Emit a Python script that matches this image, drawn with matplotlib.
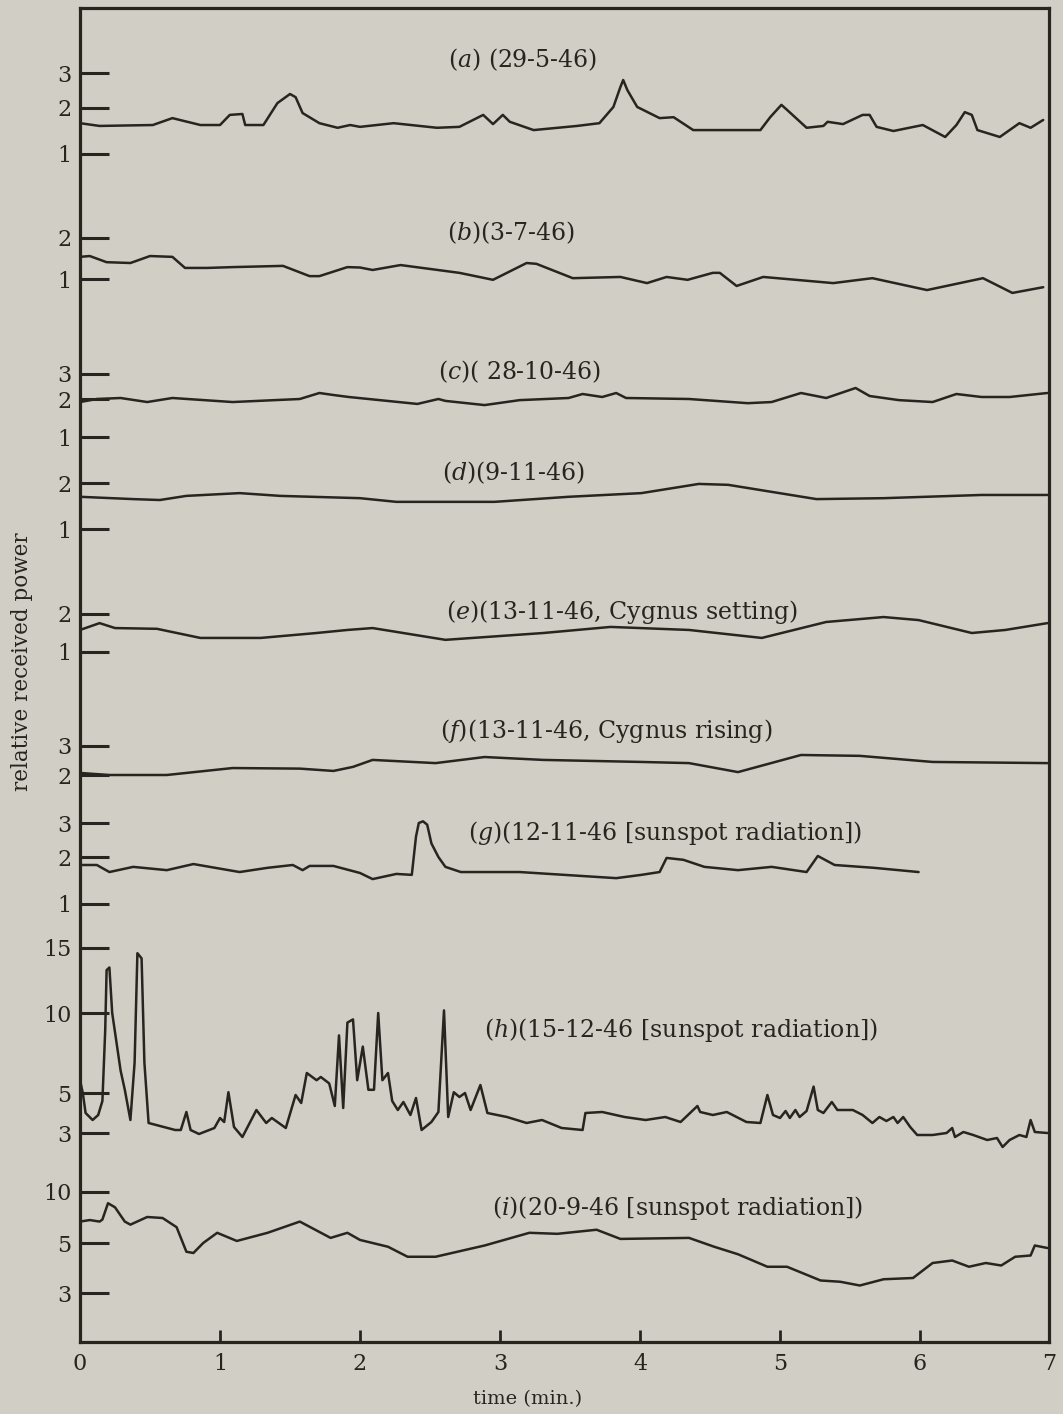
import numpy as np
import matplotlib
matplotlib.use("Agg")
import matplotlib.pyplot as plt
from matplotlib.transforms import blended_transform_factory

# ---------------- data (time in minutes, relative received power) ----------------
A_T = [0.0, 0.14, 0.52, 0.66, 0.86, 1.00, 1.07, 1.16, 1.18, 1.31, 1.41, 1.50, 1.54, 1.59, 1.71, 1.84,
       1.93, 2.00, 2.24, 2.55, 2.71, 2.88, 2.95, 3.02, 3.07, 3.24, 3.55, 3.71, 3.81, 3.86, 3.88, 3.91,
       3.98, 4.14, 4.24, 4.38, 4.50, 4.86, 4.93, 5.01, 5.05, 5.19, 5.31, 5.34, 5.45, 5.59, 5.64, 5.69,
       5.81, 6.02, 6.18, 6.26, 6.32, 6.37, 6.41, 6.57, 6.71, 6.79, 6.88]
A_P = [1.67, 1.61, 1.63, 1.78, 1.63, 1.63, 1.85, 1.87, 1.63, 1.63, 2.14, 2.40, 2.31, 1.89, 1.67, 1.57,
       1.63, 1.59, 1.67, 1.57, 1.59, 1.85, 1.65, 1.85, 1.70, 1.52, 1.61, 1.67, 2.03, 2.60, 2.80, 2.51,
       2.03, 1.78, 1.80, 1.52, 1.52, 1.52, 1.80, 2.09, 1.96, 1.57, 1.61, 1.70, 1.65, 1.85, 1.85, 1.59,
       1.50, 1.63, 1.37, 1.63, 1.91, 1.85, 1.52, 1.37, 1.67, 1.57, 1.74]

B_T = [0.0, 0.07, 0.19, 0.36, 0.50, 0.66, 0.75, 0.91, 1.09, 1.45, 1.64, 1.71, 1.91, 2.00, 2.09, 2.29,
       2.71, 2.95, 3.19, 3.26, 3.52, 3.86, 4.05, 4.19, 4.34, 4.52, 4.57, 4.69, 4.88, 5.38, 5.66, 6.05,
       6.45, 6.66, 6.88]
B_P = [1.54, 1.56, 1.41, 1.39, 1.56, 1.54, 1.27, 1.27, 1.29, 1.32, 1.07, 1.07, 1.29, 1.28, 1.22, 1.34,
       1.15, 0.98, 1.39, 1.37, 1.02, 1.05, 0.90, 1.05, 0.98, 1.15, 1.15, 0.83, 1.05, 0.90, 1.02, 0.73,
       1.02, 0.66, 0.80]

C_T = [0.0, 0.12, 0.29, 0.48, 0.66, 1.09, 1.57, 1.71, 1.81, 1.92, 2.41, 2.56, 2.61, 2.89, 3.14, 3.49,
       3.59, 3.73, 3.83, 3.90, 4.35, 4.77, 4.94, 5.15, 5.33, 5.54, 5.64, 5.85, 6.09, 6.26, 6.44, 6.64, 6.91]
C_P = [1.92, 2.00, 2.04, 1.92, 2.04, 1.92, 2.00, 2.24, 2.16, 2.08, 1.87, 2.00, 1.95, 1.84, 1.97, 2.04,
       2.20, 2.08, 2.24, 2.04, 2.00, 1.89, 1.92, 2.24, 2.04, 2.44, 2.12, 1.97, 1.92, 2.20, 2.08, 2.08, 2.24]

D_T = [0.0, 0.38, 0.57, 0.76, 1.14, 1.43, 2.00, 2.26, 2.96, 3.49, 4.01, 4.42, 4.63, 5.26, 5.74, 6.44, 6.91]
D_P = [1.70, 1.65, 1.63, 1.72, 1.78, 1.72, 1.67, 1.59, 1.59, 1.70, 1.78, 1.98, 1.96, 1.65, 1.67, 1.74, 1.74]

E_T = [0.0, 0.14, 0.25, 0.55, 0.86, 1.29, 1.69, 1.91, 2.09, 2.61, 3.31, 3.79, 4.35, 4.87, 5.33, 5.74,
       5.99, 6.37, 6.61, 6.91]
E_P = [1.58, 1.76, 1.63, 1.61, 1.37, 1.37, 1.50, 1.58, 1.63, 1.32, 1.50, 1.66, 1.58, 1.37, 1.79, 1.92,
       1.84, 1.50, 1.58, 1.76]

F_T = [0.0, 0.21, 0.62, 1.09, 1.57, 1.81, 1.95, 2.09, 2.54, 2.89, 3.31, 4.01, 4.35, 4.70, 5.15, 5.57,
       6.09, 6.91]
F_P = [2.07, 2.00, 2.00, 2.24, 2.22, 2.14, 2.28, 2.52, 2.41, 2.62, 2.52, 2.45, 2.41, 2.10, 2.69, 2.66,
       2.45, 2.41]

G_T = [0.0, 0.12, 0.21, 0.38, 0.62, 0.81, 1.14, 1.34, 1.52, 1.59, 1.64, 1.81, 2.00, 2.09, 2.26, 2.37,
       2.40, 2.42, 2.45, 2.48, 2.51, 2.56, 2.61, 2.72, 3.14, 3.83, 4.01, 4.14, 4.19, 4.31, 4.46, 4.70,
       4.94, 5.19, 5.27, 5.39, 5.67, 5.99]
G_P = [1.83, 1.83, 1.68, 1.79, 1.72, 1.85, 1.68, 1.77, 1.83, 1.72, 1.81, 1.81, 1.66, 1.53, 1.64, 1.62,
       2.60, 3.00, 3.05, 2.95, 2.40, 2.00, 1.79, 1.68, 1.68, 1.55, 1.62, 1.68, 1.98, 1.94, 1.79, 1.72,
       1.79, 1.68, 2.03, 1.83, 1.77, 1.68]

H_T = [0.0, 0.02, 0.04, 0.09, 0.13, 0.16, 0.18, 0.19, 0.21, 0.23, 0.29, 0.32, 0.36, 0.39, 0.41, 0.44,
       0.46, 0.49, 0.68, 0.72, 0.76, 0.79, 0.85, 0.96, 1.00, 1.03, 1.06, 1.10, 1.16, 1.26, 1.33, 1.37,
       1.47, 1.54, 1.58, 1.62, 1.69, 1.72, 1.78, 1.82, 1.85, 1.88, 1.91, 1.95, 1.98, 2.02, 2.06, 2.10,
       2.13, 2.16, 2.20, 2.23, 2.27, 2.31, 2.36, 2.40, 2.44, 2.51, 2.56, 2.60, 2.63, 2.67, 2.71, 2.75,
       2.79, 2.86, 2.91, 3.05, 3.19, 3.30, 3.44, 3.59, 3.61, 3.73, 3.89, 4.04, 4.18, 4.29, 4.41, 4.43,
       4.52, 4.62, 4.76, 4.86, 4.91, 4.95, 5.00, 5.04, 5.07, 5.11, 5.14, 5.19, 5.24, 5.27, 5.31, 5.37,
       5.41, 5.52, 5.59, 5.66, 5.71, 5.76, 5.81, 5.84, 5.88, 5.93, 5.98, 6.09, 6.19, 6.23, 6.25, 6.31,
       6.38, 6.48, 6.55, 6.59, 6.64, 6.71, 6.76, 6.79, 6.82, 6.91]
H_P = [5.8, 5.0, 4.0, 3.65, 3.9, 4.6, 8.9, 13.3, 13.5, 10.0, 6.4, 5.2, 3.65, 6.9, 14.6, 14.2,
       6.9, 3.5, 3.15, 3.15, 4.05, 3.15, 2.95, 3.25, 3.75, 3.55, 5.05, 3.3, 2.8, 4.15, 3.5, 3.75,
       3.25, 4.9, 4.5, 6.25, 5.8, 6.0, 5.6, 4.35, 8.6, 4.25, 9.4, 9.6, 5.8, 7.9, 5.2, 5.2,
       10.0, 5.8, 6.25, 4.6, 4.15, 4.55, 3.9, 4.75, 3.15, 3.55, 4.05, 10.2, 3.8, 5.05, 4.8, 5.0,
       4.15, 5.5, 4.0, 3.8, 3.5, 3.65, 3.25, 3.15, 4.0, 4.05, 3.8, 3.65, 3.8, 3.55, 4.35, 4.05,
       3.9, 4.05, 3.55, 3.5, 4.9, 3.9, 3.75, 4.1, 3.75, 4.15, 3.8, 4.1, 5.4, 4.15, 4.0, 4.55,
       4.15, 4.15, 3.9, 3.5, 3.8, 3.6, 3.8, 3.5, 3.8, 3.3, 2.9, 2.9, 3.0, 3.25, 2.8, 3.05,
       2.9, 2.65, 2.75, 2.3, 2.65, 2.9, 2.8, 3.65, 3.05, 3.0]

I_T = [0.0, 0.07, 0.14, 0.16, 0.20, 0.25, 0.32, 0.36, 0.48, 0.59, 0.69, 0.76, 0.81, 0.88, 0.98, 1.12,
       1.34, 1.57, 1.79, 1.91, 2.00, 2.20, 2.34, 2.54, 2.89, 3.21, 3.41, 3.69, 3.86, 4.35, 4.53, 4.70,
       4.91, 5.05, 5.29, 5.43, 5.57, 5.74, 5.95, 6.09, 6.23, 6.35, 6.47, 6.58, 6.68, 6.79, 6.82, 6.91]
I_P = [7.1, 7.25, 7.1, 7.3, 8.9, 8.5, 7.1, 6.8, 7.55, 7.45, 6.55, 4.65, 4.6, 5.0, 6.0, 5.2,
       6.0, 7.1, 5.5, 6.0, 5.3, 4.85, 4.45, 4.45, 4.9, 6.0, 5.9, 6.3, 5.4, 5.5, 4.85, 4.55,
       4.05, 4.05, 3.5, 3.45, 3.3, 3.55, 3.6, 4.2, 4.3, 4.05, 4.2, 4.1, 4.45, 4.5, 4.9, 4.8]

PANEL_LABELS = [r"($\mathit{a}$) (29-5-46)", r"($\mathit{b}$)(3-7-46)", r"($\mathit{c}$)( 28-10-46)",
                r"($\mathit{d}$)(9-11-46)", r"($\mathit{e}$)(13-11-46, Cygnus setting)",
                r"($\mathit{f}$)(13-11-46, Cygnus rising)", r"($\mathit{g}$)(12-11-46 [sunspot radiation])",
                r"($\mathit{h}$)(15-12-46 [sunspot radiation])", r"($\mathit{i}$)(20-9-46 [sunspot radiation])"]

TICK_VALUES = [[1, 2, 3], [1, 2], [1, 2, 3], [1, 2], [1, 2], [2, 3], [1, 2, 3], [3, 5, 10, 15], [3, 5, 10]]
TIME_TICK_LABELS = ["0", "1", "2", "3", "4", "5", "6", "7"]

SERIES = [(A_T, A_P), (B_T, B_P), (C_T, C_P), (D_T, D_P), (E_T, E_P),
          (F_T, F_P), (G_T, G_P), (H_T, H_P), (I_T, I_P)]

# ---------------- layout (pixels of the 1063x1414 canvas) ----------------
W, H, DPI = 1063, 1414, 100
LEFT, TOP, RIGHT, BOTTOM = 80, 8, 1049, 1342
PX_PER_MIN = 140.0
TICK_PX = [[154, 108, 73], [279, 238], [437, 399, 374], [529, 483], [652, 614], [775, 746],
           [904, 857, 823], [1133, 1093, 1013, 948], [1293, 1243, 1192]]
LABEL_POS = [(3.16, 60), (3.08, 233), (3.14, 372), (3.10, 473), (3.87, 612), (3.76, 731),
             (4.18, 833), (4.29, 1030), (4.27, 1208)]

PAPER = "#d1cec5"
INK = "#282420"

plt.rcParams["font.family"] = ["DejaVu Serif"]
plt.rcParams["mathtext.fontset"] = "dejavuserif"

fig = plt.figure(figsize=(W / DPI, H / DPI), dpi=DPI, facecolor=PAPER)
rect = [LEFT / W, 1 - BOTTOM / H, (RIGHT - LEFT) / W, (BOTTOM - TOP) / H]
XMAX = (RIGHT - LEFT) / PX_PER_MIN

main = fig.add_axes(rect, facecolor=PAPER)
main.set_xlim(0, XMAX)
main.set_ylim(0, 1)
main.set_yticks([])
main.set_xticks(list(range(7)) + [XMAX])
main.set_xticklabels(TIME_TICK_LABELS)
main.tick_params(axis="x", direction="in", length=9, width=2, color=INK, labelsize=16,
                 labelcolor=INK, pad=8)
for s in main.spines.values():
    s.set_linewidth(2.3)
    s.set_color(INK)


def make_scale(vals, px):
    v = np.asarray(vals, float)
    p = -np.asarray(px, float)  # increasing with value
    s_lo = (p[1] - p[0]) / (v[1] - v[0])
    s_hi = (p[-1] - p[-2]) / (v[-1] - v[-2])

    def fwd(x):
        x = np.asarray(x, float)
        out = np.interp(x, v, p)
        out = np.where(x < v[0], p[0] + s_lo * (x - v[0]), out)
        out = np.where(x > v[-1], p[-1] + s_hi * (x - v[-1]), out)
        return out

    def inv(y):
        y = np.asarray(y, float)
        out = np.interp(y, p, v)
        out = np.where(y < p[0], v[0] + (y - p[0]) / s_lo, out)
        out = np.where(y > p[-1], v[-1] + (y - p[-1]) / s_hi, out)
        return out

    return fwd, inv


lab_tr = blended_transform_factory(main.transData, fig.transFigure)

for k, ((t, pwr), tv, tp, lab, (lx, ly)) in enumerate(zip(SERIES, TICK_VALUES, TICK_PX,
                                                            PANEL_LABELS, LABEL_POS)):
    ax = fig.add_axes(rect, facecolor="none")
    fwd, inv = make_scale(tv, tp)
    ax.set_yscale("function", functions=(fwd, inv))
    ax.set_xlim(0, XMAX)
    ax.set_ylim(float(inv(-BOTTOM)), float(inv(-TOP)))
    ax.plot(t, pwr, color=INK, lw=1.8, solid_joinstyle="round", solid_capstyle="round")
    ax.set_yticks(tv)
    ax.set_yticklabels([str(x) for x in tv])
    ax.yaxis.set_minor_locator(matplotlib.ticker.NullLocator())
    ax.tick_params(axis="y", direction="in", length=21, width=2.2, color=INK, labelsize=16,
                   labelcolor=INK, pad=6)
    ax.xaxis.set_visible(False)
    for s in ax.spines.values():
        s.set_visible(False)
    main.text(lx, 1 - ly / H, lab, transform=lab_tr, ha="center", va="center",
              fontsize=17, color=INK)

fig.text(22 / W, 1 - 662 / H, "relative received power", rotation=90, ha="center",
         va="center", fontsize=15.5, color=INK)
fig.text(528 / W, 1 - 1399 / H, "time (min.)", ha="center", va="center", fontsize=14, color=INK)

fig.savefig("out.png", dpi=DPI, facecolor=PAPER)
